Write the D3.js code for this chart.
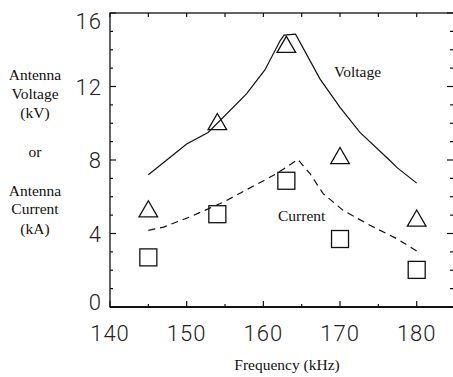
<!DOCTYPE html>
<html>
<head>
<meta charset="utf-8">
<script src="https://cdn.jsdelivr.net/npm/d3@7"></script>
<style>
  body { margin: 0; background: #fff; }
  svg { display: block; }
  .tick-label { font-family: Roboto, "DejaVu Sans", sans-serif; font-weight: 300; font-size: 22px; letter-spacing: 1px; fill: #222; }
  .serif { font-family: "Liberation Serif", "Times New Roman", serif; font-size: 15.5px; fill: #111; }
</style>
</head>
<body>
<div id="plot"></div>
<script>
// Data
var measFreq     = [145, 154, 163, 170, 180];
var measVoltage  = [5.25, 10.0, 14.2, 8.15, 4.75];
var measCurrent  = [2.7, 5.05, 6.87, 3.7, 2.02];

var voltFreq = [145, 150, 152.8, 157.8, 160.2, 162.2, 162.7, 164.2, 167.4, 170, 172.6, 176.5, 177.4, 180];
var voltVal  = [7.2, 8.87, 9.5, 11.6, 12.9, 14.5, 14.8, 14.85, 12.4, 10.86, 9.5, 7.97, 7.6, 6.74];

var currFreq = [145, 147, 150.4, 154.8, 161.7, 164.5, 166.1, 167.8, 170.4, 173.9, 177.4, 180];
var currVal  = [4.17, 4.35, 4.9, 5.71, 7.25, 8.03, 7.25, 6.17, 5.26, 4.45, 3.72, 3.05];

var xMajor = [140, 150, 160, 170, 180];
var yMajor = [0, 4, 8, 12, 16];

var width = 453, height = 377;
var mLeft = 110, mTop = 13, mBottom = 307, mRight = 453;

var svg = d3.select("#plot")
    .append("svg")
    .attr("width", width)
    .attr("height", height);

var x = d3.scaleLinear().domain([140, 180]).range([mLeft, 416.7]);
var y = d3.scaleLinear().domain([0, 16]).range([mBottom, mTop]);

// frame
svg.append("rect")
    .attr("x", mLeft).attr("y", mTop)
    .attr("width", mRight - mLeft + 2).attr("height", mBottom - mTop)
    .attr("fill", "none").attr("stroke", "#111").attr("stroke-width", 1.3);
svg.append("line")
    .attr("x1", mLeft).attr("x2", mRight)
    .attr("y1", mBottom).attr("y2", mBottom)
    .attr("stroke", "#111").attr("stroke-width", 1.8);

// ticks, all pointing inward
var xMinor = d3.range(145, 180, 10);
var yMinor = d3.range(0, 16, 1).filter(function(v) { return v % 4 !== 0; });
var ticks = svg.append("g").attr("stroke", "#111").attr("stroke-width", 1.2);

xMajor.concat(xMinor).forEach(function(v) {
    var len = xMajor.indexOf(v) >= 0 ? 6 : 3;
    ticks.append("line").attr("x1", x(v)).attr("x2", x(v)).attr("y1", mBottom).attr("y2", mBottom - len);
    ticks.append("line").attr("x1", x(v)).attr("x2", x(v)).attr("y1", mTop).attr("y2", mTop + 4);
});
yMajor.concat(yMinor).forEach(function(v) {
    var len = yMajor.indexOf(v) >= 0 ? 6 : 3;
    ticks.append("line").attr("y1", y(v)).attr("y2", y(v)).attr("x1", mLeft).attr("x2", mLeft + len);
    ticks.append("line").attr("y1", y(v)).attr("y2", y(v)).attr("x1", mRight).attr("x2", mRight - len);
});

// tick labels
svg.append("g").selectAll("text")
    .data(xMajor).enter().append("text")
    .attr("class", "tick-label")
    .attr("x", function(d) { return x(d); })
    .attr("y", 341)
    .attr("text-anchor", "middle")
    .text(function(d) { return d; });

svg.append("g").selectAll("text")
    .data(yMajor).enter().append("text")
    .attr("class", "tick-label")
    .attr("x", 102)
    .attr("y", function(d) {
        var shift = d === 16 ? 7.5 : (d === 0 ? -5.5 : 0);
        return y(d) + shift + 8;
    })
    .attr("text-anchor", "end")
    .text(function(d) { return d; });

// curves
var voltLine = d3.line()
    .x(function(d, i) { return x(voltFreq[i]); })
    .y(function(d) { return y(d); });
svg.append("path")
    .attr("d", voltLine(voltVal))
    .attr("fill", "none").attr("stroke", "#111").attr("stroke-width", 1.2);

var currLine = d3.line()
    .x(function(d, i) { return x(currFreq[i]); })
    .y(function(d) { return y(d); });
svg.append("path")
    .attr("d", currLine(currVal))
    .attr("fill", "none").attr("stroke", "#111").attr("stroke-width", 1.2)
    .attr("stroke-dasharray", "7,5");

// markers
var tri = d3.symbol().type(d3.symbolTriangle).size(150);
svg.append("g").selectAll("path")
    .data(measVoltage).enter().append("path")
    .attr("d", tri)
    .attr("transform", function(d, i) { return "translate(" + x(measFreq[i]) + "," + (y(d) + 1) + ")"; })
    .attr("fill", "none").attr("stroke", "#111").attr("stroke-width", 1.3);

var sq = 17;
svg.append("g").selectAll("rect")
    .data(measCurrent).enter().append("rect")
    .attr("x", function(d, i) { return x(measFreq[i]) - sq / 2; })
    .attr("y", function(d) { return y(d) - sq / 2; })
    .attr("width", sq).attr("height", sq)
    .attr("fill", "none").attr("stroke", "#111").attr("stroke-width", 1.3);

// labels
svg.append("text").attr("class", "serif").attr("x", 334).attr("y", 77).text("Voltage");
svg.append("text").attr("class", "serif").attr("x", 278).attr("y", 221).text("Current");

svg.append("text").attr("class", "serif")
    .attr("x", 287).attr("y", 370).attr("text-anchor", "middle")
    .text("Frequency (kHz)");

var yTitle = ["Antenna", "Voltage", "(kV)", "or", "Antenna", "Current", "(kA)"];
var yTitleY = [75, 94, 113, 152, 191, 209, 229];
svg.append("g").selectAll("text")
    .data(yTitle).enter().append("text")
    .attr("class", "serif")
    .attr("x", 35)
    .attr("y", function(d, i) { return yTitleY[i] + 5; })
    .attr("text-anchor", "middle")
    .text(function(d) { return d; });
</script>
</body>
</html>
